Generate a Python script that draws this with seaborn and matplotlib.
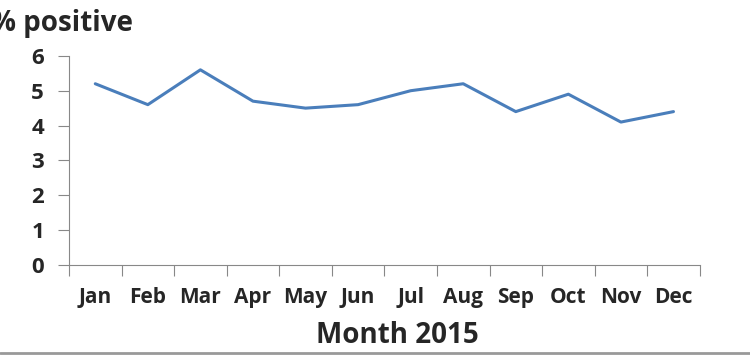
import matplotlib
matplotlib.use("Agg")
import matplotlib.pyplot as plt
import seaborn as sns
import pandas as pd
from matplotlib.lines import Line2D
from matplotlib.ticker import FixedLocator

months = ["Jan", "Feb", "Mar", "Apr", "May", "Jun", "Jul", "Aug", "Sep", "Oct", "Nov", "Dec"]
pct_positive = [5.2, 4.6, 5.6, 4.7, 4.5, 4.6, 5.0, 5.2, 4.4, 4.9, 4.1, 4.4]
y_ticks = [0, 1, 2, 3, 4, 5, 6]

sns.set_style("white")
plt.rcParams["font.family"] = ["Open Sans", "DejaVu Sans"]

df = pd.DataFrame({"pos": range(len(months)), "month": months, "pct": pct_positive})

fig = plt.figure(figsize=(7.5, 3.56), dpi=100)
ax = fig.add_axes([0.092, 0.256, 0.841, 0.587])
sns.lineplot(data=df, x="pos", y="pct", ax=ax, color="#4a7ebb", linewidth=2.2)

ax.set_xlim(-0.5, len(months) - 0.5)
ax.set_ylim(0, 6)
ax.xaxis.set_major_locator(FixedLocator([i - 0.5 for i in range(len(months) + 1)]))
ax.xaxis.set_minor_locator(FixedLocator(list(range(len(months)))))
ax.set_xticklabels([], minor=False)
ax.set_xticklabels(months, minor=True, fontsize=15, fontweight="bold")
ax.tick_params(axis="x", which="major", direction="out", length=8, color="#888888", width=0.8, bottom=True)
ax.tick_params(axis="x", which="minor", length=0, pad=16)
ax.set_yticks(y_ticks)
ax.set_yticklabels([str(v) for v in y_ticks], fontsize=16, fontweight="bold")
ax.tick_params(axis="y", direction="out", length=8, color="#888888", width=0.8, left=True, pad=10)

for s in ["top", "right"]:
    ax.spines[s].set_visible(False)
for s in ["left", "bottom"]:
    ax.spines[s].set_color("#888888")
    ax.spines[s].set_linewidth(0.8)

ax.set_xlabel("")
ax.set_ylabel("")
fig.text(0.53, 0.058, "Month 2015", ha="center", va="center", fontsize=20, fontweight="bold")
fig.text(-0.012, 0.935, "% positive", ha="left", va="center", fontsize=20, fontweight="bold")

fig.add_artist(Line2D([0, 1], [0.008, 0.008], transform=fig.transFigure, color="#999999", linewidth=2))

fig.savefig("out.png", dpi=100)
